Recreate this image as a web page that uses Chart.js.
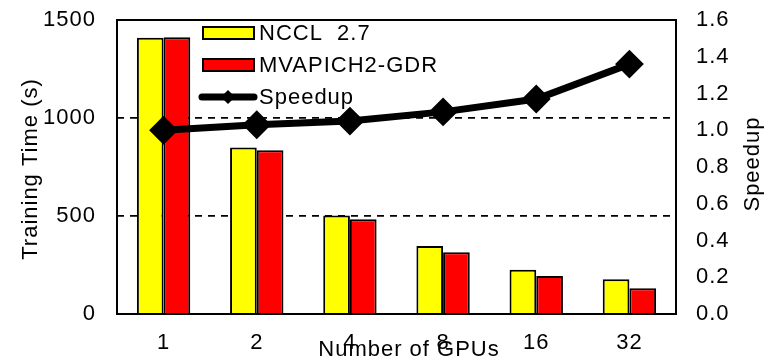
<!DOCTYPE html>
<html>
<head>
<meta charset="utf-8">
<script src="https://cdn.jsdelivr.net/npm/chart.js@4/dist/chart.umd.min.js"></script>
<style>
  html, body { margin: 0; padding: 0; background: #fff; }
  #wrap { width: 765px; height: 360px; position: relative; }
</style>
</head>
<body>
<div id="wrap"><canvas id="c" width="765" height="360"></canvas></div>
<script>
// GPU counts on the x axis
const gpuCounts = ['1', '2', '4', '8', '16', '32'];
// Training time in seconds
const ncclTime = [1410, 850, 502, 347, 226, 177];
const mvapichTime = [1412, 835, 483, 315, 194, 131];
// Speedup of MVAPICH2-GDR over NCCL
const speedup = [1.00, 1.03, 1.05, 1.10, 1.17, 1.36];
// Axis ticks
const timeTicks = [0, 500, 1000, 1500];
const speedupTicks = [0.0, 0.2, 0.4, 0.6, 0.8, 1.0, 1.2, 1.4, 1.6];

const FONT = '"Liberation Sans", Arial, sans-serif';
const FSIZE = 22;
const SPACING = '1px';

// keep the slightly open letter spacing through every canvas reset
const spacingPlugin = {
  id: 'spacing',
  beforeUpdate(chart) { chart.ctx.letterSpacing = SPACING; },
  beforeLayout(chart) { chart.ctx.letterSpacing = SPACING; },
  beforeDraw(chart) { chart.ctx.letterSpacing = SPACING; }
};

// frame, axis titles and in-plot legend
const decorPlugin = {
  id: 'decor',
  afterDatasetsDraw(chart) {
    const { ctx, chartArea: a } = chart;
    ctx.save();
    ctx.strokeStyle = '#000';
    ctx.lineWidth = 2;
    ctx.strokeRect(a.left, a.top, a.right - a.left, a.bottom - a.top);
    ctx.restore();
  },
  afterDraw(chart) {
    const { ctx } = chart;
    ctx.save();
    ctx.letterSpacing = SPACING;
    ctx.fillStyle = '#000';
    ctx.font = FSIZE + 'px ' + FONT;
    ctx.textAlign = 'center';
    ctx.textBaseline = 'middle';

    // x title
    ctx.fillText('Number of GPUs', 409, 350);

    // left title
    ctx.save();
    ctx.translate(31, 169);
    ctx.rotate(-Math.PI / 2);
    ctx.fillText('Training Time (s)', 0, 0);
    ctx.restore();

    // right title
    ctx.save();
    ctx.translate(753, 164);
    ctx.rotate(-Math.PI / 2);
    ctx.fillText('Speedup', 0, 0);
    ctx.restore();

    // legend
    ctx.textAlign = 'left';
    const ds = chart.data.datasets;
    const rows = [
      { y: 33, type: 'box', fill: ds[0].backgroundColor, label: ds[0].label },
      { y: 65, type: 'box', fill: ds[1].backgroundColor, label: ds[1].label },
      { y: 97, type: 'line', label: ds[2].label }
    ];
    rows.forEach(r => {
      if (r.type === 'box') {
        ctx.fillStyle = r.fill;
        ctx.fillRect(203, r.y - 6, 51, 12);
        ctx.strokeStyle = '#000';
        ctx.lineWidth = 2;
        ctx.strokeRect(203, r.y - 6, 51, 12);
      } else {
        ctx.strokeStyle = '#000';
        ctx.lineWidth = 7;
        ctx.lineCap = 'round';
        ctx.beginPath();
        ctx.moveTo(202, r.y);
        ctx.lineTo(254, r.y);
        ctx.stroke();
        ctx.fillStyle = '#000';
        ctx.beginPath();
        ctx.moveTo(228 - 7, r.y);
        ctx.lineTo(228, r.y - 7);
        ctx.lineTo(228 + 7, r.y);
        ctx.lineTo(228, r.y + 7);
        ctx.closePath();
        ctx.fill();
      }
      ctx.fillStyle = '#000';
      ctx.fillText(r.label, 259, r.y + 1);
    });
    ctx.restore();
  }
};

Chart.defaults.font.family = FONT;
Chart.defaults.font.size = FSIZE;
Chart.defaults.color = '#000';

// vertical axes: fixed width, no extra room for half-height labels
function fixVertical(width) {
  return s => { s.width = width; s.paddingTop = 0; s.paddingBottom = 0; };
}

new Chart(document.getElementById('c'), {
  data: {
    labels: gpuCounts,
    datasets: [
      {
        type: 'bar', label: 'NCCL  2.7', data: ncclTime, yAxisID: 'y',
        backgroundColor: '#FFFF00', borderColor: '#000', borderWidth: 2,
        categoryPercentage: 0.573, barPercentage: 1.0, order: 2
      },
      {
        type: 'bar', label: 'MVAPICH2-GDR', data: mvapichTime, yAxisID: 'y',
        backgroundColor: '#FF0000', borderColor: '#000', borderWidth: 2,
        categoryPercentage: 0.573, barPercentage: 1.0, order: 2
      },
      {
        type: 'line', label: 'Speedup', data: speedup, yAxisID: 'y1',
        borderColor: '#000', borderWidth: 7, backgroundColor: '#000',
        pointStyle: 'rectRot', pointRadius: 13, pointBorderWidth: 2,
        pointBackgroundColor: '#000', pointBorderColor: '#000',
        tension: 0, order: 0
      }
    ]
  },
  options: {
    responsive: false,
    animation: false,
    devicePixelRatio: 1,
    layout: { padding: { top: 20, left: 0, right: 0, bottom: 0 } },
    plugins: { legend: { display: false }, tooltip: { enabled: false } },
    scales: {
      x: {
        offset: true,
        grid: { display: false, drawTicks: false },
        border: { display: false },
        ticks: { padding: 16 },
        afterFit(s) { s.height = 46; s.paddingLeft = 0; s.paddingRight = 0; }
      },
      y: {
        position: 'left',
        min: 0, max: 1500,
        afterBuildTicks(s) { s.ticks = timeTicks.map(v => ({ value: v })); },
        grid: {
          drawTicks: false,
          color: c => (c.tick && (c.tick.value === 500 || c.tick.value === 1000)) ? '#000' : 'rgba(0,0,0,0)',
          lineWidth: 1.8
        },
        border: { display: false, dash: [7, 6] },
        ticks: { padding: 21, callback: v => String(v) },
        afterFit: fixVertical(117)
      },
      y1: {
        position: 'right',
        min: 0, max: 1.6,
        afterBuildTicks(s) { s.ticks = speedupTicks.map(v => ({ value: v })); },
        grid: { drawOnChartArea: false, drawTicks: false },
        border: { display: false },
        ticks: { padding: 20, callback: v => Number(v).toFixed(1) },
        afterFit: fixVertical(89)
      }
    }
  },
  plugins: [spacingPlugin, decorPlugin]
});
</script>
</body>
</html>
